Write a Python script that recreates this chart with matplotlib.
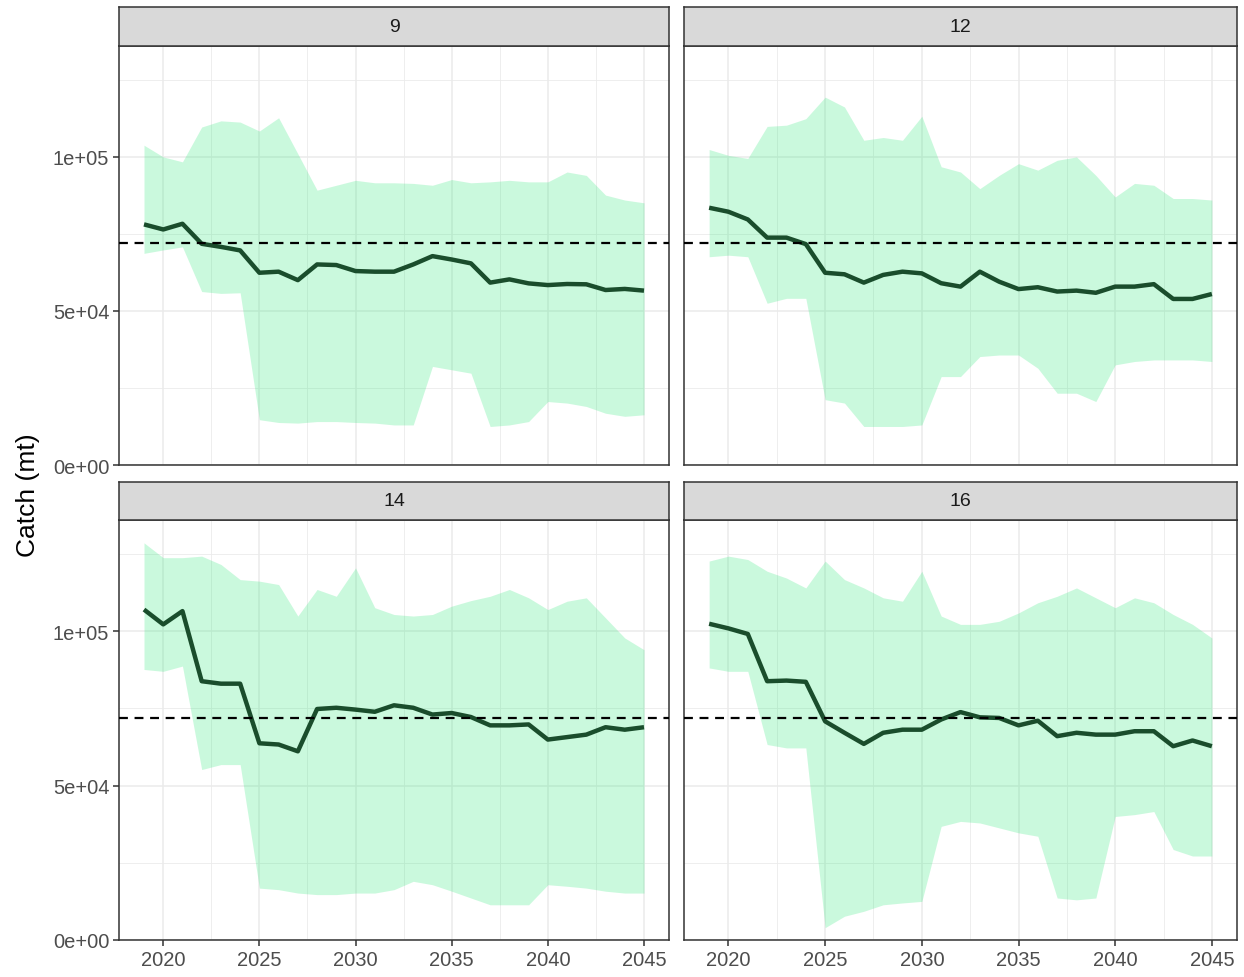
import matplotlib
matplotlib.use("Agg")
import matplotlib.pyplot as plt
import numpy as np
from matplotlib.ticker import FixedLocator

plt.rcParams['font.family'] = ['Liberation Sans', 'DejaVu Sans']

years = list(range(2019, 2046))
panels = ["9", "12", "14", "16"]
reference_catch = 72000

median_9 = [78100, 76450, 78300, 71800, 70800, 69650, 62400, 62750, 60000, 65100,
            64900, 62950, 62750, 62750, 65100, 67800, 66700, 65450, 59200, 60250,
            58950, 58400, 58750, 58650, 56800, 57150, 56600]
upper_9 = [103800, 100000, 98400, 109700, 111700, 111300, 108400, 112700, 101000, 89200,
           90800, 92400, 91600, 91600, 91400, 90800, 92650, 91600, 91900, 92400,
           91900, 91900, 95100, 94000, 87600, 86000, 85100]
lower_9 = [68700, 69800, 70800, 56300, 55700, 55900, 14700, 13800, 13600, 14100,
           14100, 13800, 13600, 13000, 13000, 32000, 30900, 29800, 12500, 13000,
           14100, 20600, 20100, 19000, 16800, 15800, 16300]

median_12 = [83500, 82200, 79700, 73800, 73800, 71700, 62400, 61900, 59200, 61700,
             62750, 62200, 59000, 57900, 62750, 59500, 57100, 57700, 56300, 56600,
             55900, 57900, 57900, 58700, 53900, 53900, 55500]
upper_12 = [102400, 100500, 99500, 109900, 110300, 112400, 119400, 116200, 105400, 106300,
            105400, 113200, 96800, 95100, 89700, 94000, 97800, 95700, 98900, 100000,
            94000, 87000, 91400, 90800, 86500, 86500, 86000]
lower_12 = [67600, 68100, 67600, 52500, 54100, 54100, 21200, 20100, 12500, 12500,
            12500, 13000, 28700, 28700, 35200, 35700, 35700, 31400, 23300, 23300,
            20600, 32500, 33600, 34100, 34100, 34100, 33600]

median_14 = [107000, 102200, 106500, 83800, 83000, 83000, 63700, 63300, 61100, 74800,
             75200, 74600, 73900, 76000, 75200, 73000, 73500, 72200, 69500, 69500,
             69800, 64900, 65700, 66500, 68900, 68100, 68900]
upper_14 = [128600, 123800, 123800, 124300, 121600, 116700, 116200, 115100, 104900, 113500,
            111300, 120500, 107600, 105400, 104900, 105400, 108100, 109900, 111300, 113500,
            110800, 107000, 109700, 110800, 104300, 97800, 94000]
lower_14 = [87600, 87000, 88700, 55200, 56800, 56800, 16800, 16300, 15200, 14700,
            14700, 15200, 15200, 16300, 19000, 17900, 15800, 13600, 11400, 11400,
            11400, 17900, 17400, 16800, 15800, 15200, 15200]

median_16 = [102400, 100900, 99100, 83800, 84000, 83600, 70800, 67100, 63500, 67100,
             68100, 68100, 71400, 73800, 72100, 71900, 69500, 71000, 66000, 67100,
             66500, 66500, 67600, 67600, 62750, 64600, 62750]
upper_16 = [122700, 124300, 123200, 119400, 117200, 114000, 122700, 116700, 114000, 110800,
            109700, 119400, 104900, 102200, 102200, 103200, 105900, 109200, 111300, 114000,
            110800, 107600, 110800, 109200, 105400, 102200, 97800]
lower_16 = [88100, 87000, 87000, 63300, 62200, 62200, 4000, 7700, 9300, 11400,
            12000, 12500, 36800, 38400, 37900, 36300, 34700, 33600, 13600, 13000,
            13600, 40000, 40600, 41600, 29300, 27200, 27200]

medians = [median_9, median_12, median_14, median_16]
uppers = [upper_9, upper_12, upper_14, upper_16]
lowers = [lower_9, lower_12, lower_14, lower_16]

x_ticks = [2020, 2025, 2030, 2035, 2040, 2045]
y_ticks = [0, 50000, 100000]
y_tick_labels = ["0e+00", "5e+04", "1e+05"]

W, H = 1244, 978
fig = plt.figure(figsize=(W / 100, H / 100), dpi=100)

# pixel layout of the facet grid
cols = [(119, 669), (684, 1237)]
rows = [(8, 47, 466), (483, 521, 941)]

border = "#333333"
x_lo, x_hi = 2019 - 0.05 * 26, 2045 + 0.05 * 26
y_hi = 136000

for i, name in enumerate(panels):
    r, c = divmod(i, 2)
    x0, x1 = cols[c]
    s0, s1, p1 = rows[r]
    ax = fig.add_axes([x0 / W, 1 - p1 / H, (x1 - x0) / W, (p1 - s1) / H])
    ax.set_xlim(x_lo, x_hi)
    ax.set_ylim(0, y_hi)

    # grid lines
    for gx in [2022.5, 2027.5, 2032.5, 2037.5, 2042.5]:
        ax.axvline(gx, color="#EBEBEB", lw=0.6, zorder=0)
    for gy in [25000, 75000, 125000]:
        ax.axhline(gy, color="#EBEBEB", lw=0.6, zorder=0)
    for gx in x_ticks:
        ax.axvline(gx, color="#EBEBEB", lw=1.1, zorder=0)
    for gy in y_ticks:
        ax.axhline(gy, color="#EBEBEB", lw=1.1, zorder=0)

    ax.fill_between(years, lowers[i], uppers[i], color="#2EE87A", alpha=0.25,
                    lw=0, zorder=1)
    ax.plot(years, medians[i], color="#1A4D2C", lw=3.2, zorder=3,
            solid_joinstyle="round", solid_capstyle="butt")
    ax.axhline(reference_catch, color="black", lw=1.6, ls=(0, (4, 3)), zorder=4)

    for sp in ax.spines.values():
        sp.set_color(border)
        sp.set_linewidth(1.1)

    ax.xaxis.set_major_locator(FixedLocator(x_ticks))
    ax.yaxis.set_major_locator(FixedLocator(y_ticks))
    ax.tick_params(axis="both", colors=border, length=4, width=1.1,
                   labelsize=14.5, labelcolor="#4D4D4D", pad=3)
    if c == 0:
        ax.set_yticklabels(y_tick_labels)
    else:
        ax.tick_params(axis="y", left=False, labelleft=False)
    if r == 1:
        ax.set_xticklabels([str(v) for v in x_ticks])
    else:
        ax.tick_params(axis="x", bottom=False, labelbottom=False)

    # facet strip
    sax = fig.add_axes([x0 / W, 1 - s1 / H, (x1 - x0) / W, (s1 - s0) / H])
    sax.set_facecolor("#D9D9D9")
    sax.set_xticks([])
    sax.set_yticks([])
    for sp in sax.spines.values():
        sp.set_color(border)
        sp.set_linewidth(1.1)
    sax.text(0.5, 0.5, name, ha="center", va="center", fontsize=14,
             color="#1A1A1A", transform=sax.transAxes)

fig.text(28 / W, 1 - 495 / H, "Catch (mt)", rotation=90, ha="center",
         va="center", fontsize=19, color="black")

fig.savefig("out.png", dpi=100, facecolor="white")
